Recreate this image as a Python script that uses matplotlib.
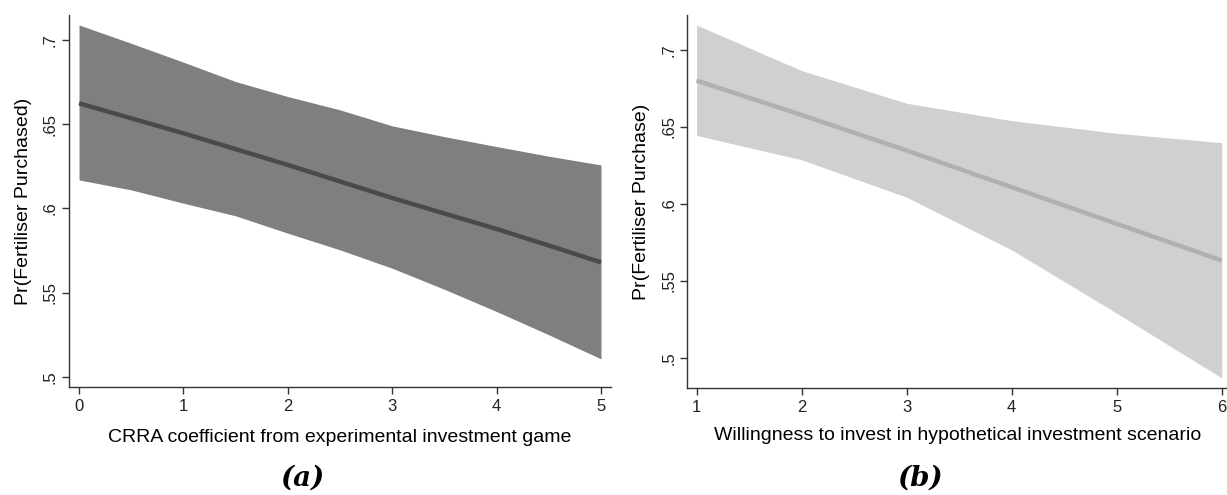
import matplotlib
matplotlib.use("Agg")
import matplotlib.pyplot as plt

# Panel (a): predicted probability vs CRRA coefficient
crra_x = [0, 0.5, 1, 1.5, 2, 2.5, 3, 3.5, 4, 4.5, 5]
crra_pred = [0.6624, 0.6535, 0.6446, 0.6352, 0.6258, 0.6160, 0.6062, 0.5970, 0.5878, 0.5780, 0.5680]
crra_upper = [0.7089, 0.6980, 0.6868, 0.6753, 0.6664, 0.6585, 0.6490, 0.6426, 0.6367, 0.6310, 0.6258]
crra_lower = [0.6169, 0.6110, 0.6031, 0.5956, 0.5853, 0.5754, 0.5645, 0.5520, 0.5388, 0.5250, 0.5107]

# Panel (b): predicted probability vs hypothetical willingness to invest
wti_x = [1, 2, 3, 4, 5, 6]
wti_pred = [0.6801, 0.6578, 0.6347, 0.6109, 0.5871, 0.5633]
wti_upper = [0.7162, 0.6866, 0.6654, 0.6541, 0.6459, 0.6398]
wti_lower = [0.6445, 0.6287, 0.6044, 0.5702, 0.5291, 0.4870]

yticks = [0.5, 0.55, 0.6, 0.65, 0.7]
ytick_labels = [".5", ".55", ".6", ".65", ".7"]

W, H = 1227, 495
fig = plt.figure(figsize=(W / 100, H / 100), dpi=100)
plt.rcParams["font.family"] = ["Liberation Sans", "DejaVu Sans"]


def px_axes(x0, y0, x1, y1):
    return fig.add_axes([x0 / W, 1 - y1 / H, (x1 - x0) / W, (y1 - y0) / H])


def style(ax):
    for s in ("top", "right"):
        ax.spines[s].set_visible(False)
    for s in ("left", "bottom"):
        ax.spines[s].set_color("#333333")
        ax.spines[s].set_linewidth(1.0)
    ax.tick_params(axis="both", direction="out", length=5, width=1,
                   color="#333333", labelsize=12, labelcolor="#222222")
    ax.tick_params(axis="y", pad=3)
    ax.set_yticks(yticks)
    ax.set_yticklabels(ytick_labels, rotation=90, va="center")


axa = px_axes(69, 15, 611, 387)
axa.fill_between(crra_x, crra_lower, crra_upper, color="#7f7f7f", lw=0)
axa.plot(crra_x, crra_pred, color="#4a4a4a", lw=3.2, solid_capstyle="butt")
axa.set_xlim(-0.096, 5.096)
axa.set_ylim(0.494, 0.7148)
axa.set_xticks(range(0, 6))
style(axa)
axa.set_xlabel("CRRA coefficient from experimental investment game",
               fontsize=14, labelpad=11)
axa.set_ylabel("Pr(Fertiliser Purchased)", fontsize=14, labelpad=8)

axb = px_axes(687.5, 15, 1227, 388)
axb.fill_between(wti_x, wti_lower, wti_upper, color="#d0d0d0", lw=0)
axb.plot(wti_x, wti_pred, color="#b0b0b0", lw=3.2, solid_capstyle="butt")
axb.set_xlim(0.914, 6.05)
axb.set_ylim(0.4805, 0.7227)
axb.set_xticks(range(1, 7))
style(axb)
axb.set_xlabel("Willingness to invest in hypothetical investment scenario",
               fontsize=14, labelpad=9)
axb.set_ylabel("Pr(Fertiliser Purchase)", fontsize=14, labelpad=8)

for xc, tag in ((302, "(a)"), (920, "(b)")):
    fig.text(xc / W, 1 - 478 / H, tag, ha="center", va="center",
             fontsize=20, family="DejaVu Serif", style="italic", weight="bold")

fig.savefig("out.png", dpi=100)
